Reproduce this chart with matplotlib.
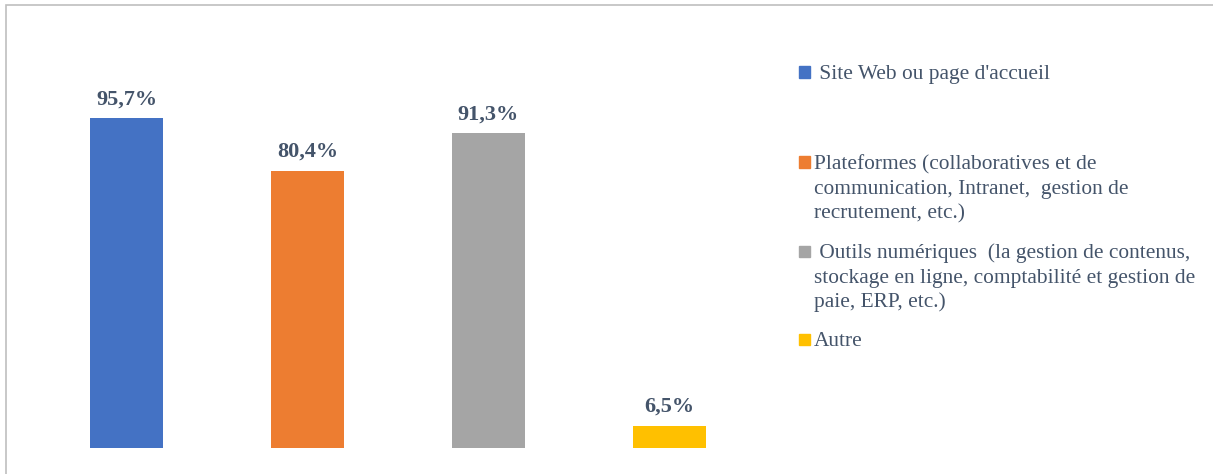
import matplotlib.pyplot as plt
from matplotlib.patches import Rectangle

# ------------------------------------------------------------
# Data
# ------------------------------------------------------------
categories = [
    " Site Web ou page d'accueil",
    "Plateformes (collaboratives et de\ncommunication, Intranet,  gestion de\nrecrutement, etc.)",
    " Outils numériques  (la gestion de contenus,\nstockage en ligne, comptabilité et gestion de\npaie, ERP, etc.)",
    "Autre",
]
values = [95.7, 80.4, 91.3, 6.5]
colors = ["#4472C4", "#ED7D31", "#A5A5A5", "#FFC000"]

TEXT_COLOR = "#44546A"
W, H = 1213, 474

plt.rcParams["font.family"] = ["Liberation Serif", "DejaVu Serif"]

fig = plt.figure(figsize=(W / 100, H / 100), dpi=100)
fig.patch.set_facecolor("white")

# bar area, in pixels from the left / bottom
ax = fig.add_axes([36 / W, 26 / H, 724 / W, 344.8 / H])
x = range(len(values))
bars = ax.bar(x, values, width=0.403, color=colors)
ax.set_xlim(-0.5, len(values) - 0.5)
ax.set_ylim(0, 100)
ax.axis("off")

for rect, v in zip(bars, values):
    ax.annotate(f"{v:.1f}%".replace(".", ","),
                (rect.get_x() + rect.get_width() / 2, v),
                xytext=(0, 10), textcoords="offset points",
                ha="center", va="baseline",
                fontsize=16, fontweight="bold", color=TEXT_COLOR)

# legend drawn by hand: uneven gaps between entries
legend_y = [72, 162, 251, 339]
line_step = 24.6
for label, c, yc in zip(categories, colors, legend_y):
    fig.patches.append(Rectangle((799 / W, 1 - (yc + 5.5) / H), 11 / W, 11 / H,
                                 transform=fig.transFigure, color=c))
    for i, line in enumerate(label.split("\n")):
        fig.text(814 / W, 1 - (yc + 7 + i * line_step) / H, line,
                 ha="left", va="baseline", fontsize=15.4, color=TEXT_COLOR)

# chart border (only left and top visible)
frame = Rectangle((6 / W, -0.1), 1.2, 1 - 5 / H + 0.1, transform=fig.transFigure,
                  fill=False, edgecolor="#BFBFBF", linewidth=1.2)
fig.patches.append(frame)

fig.savefig("out.png", dpi=100)
